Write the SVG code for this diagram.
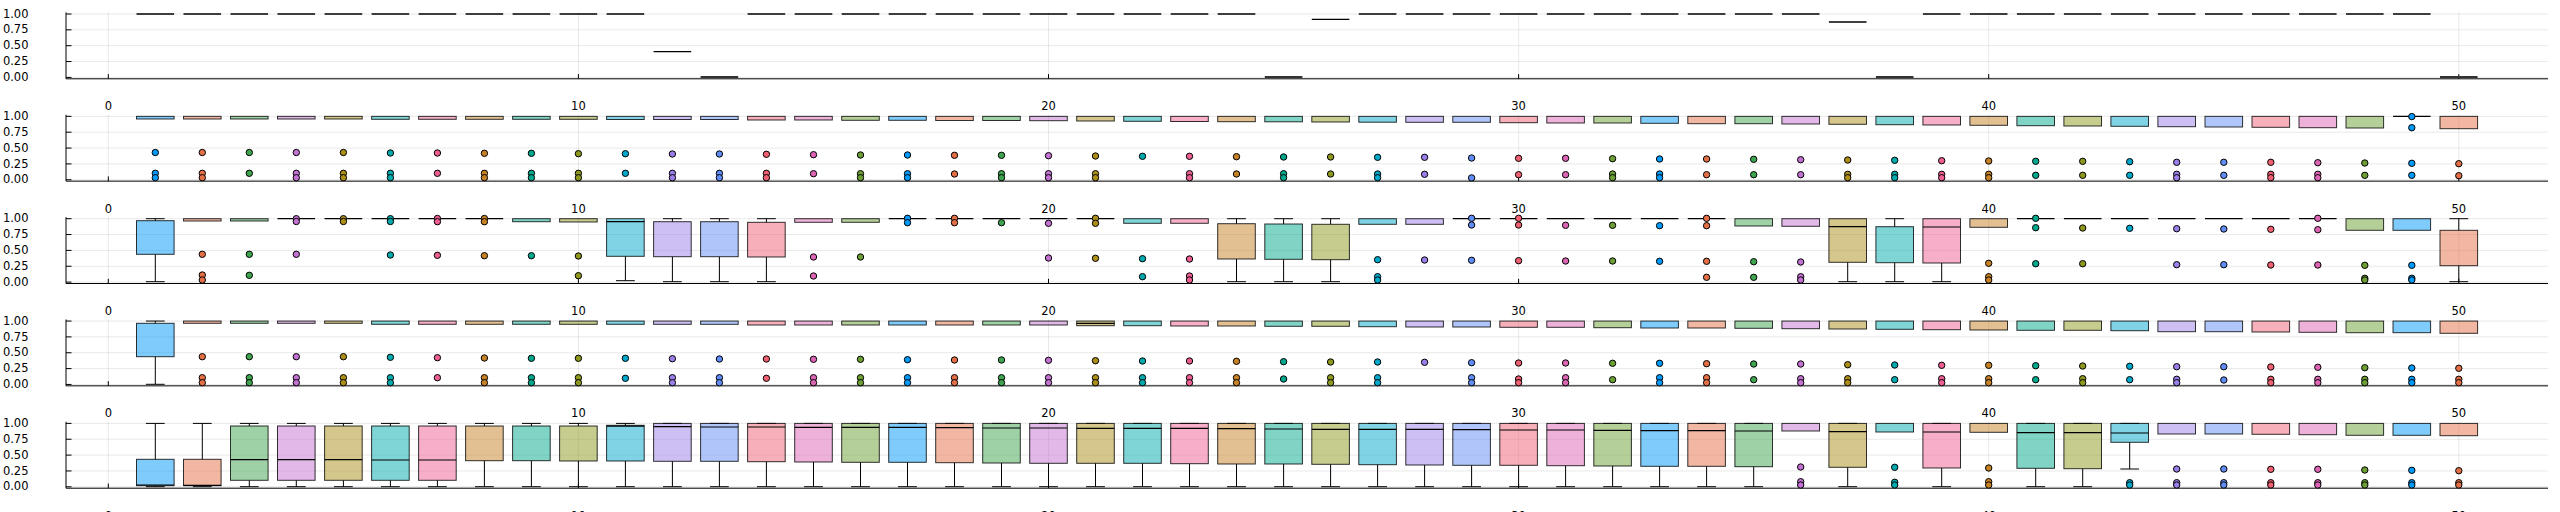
<svg xmlns="http://www.w3.org/2000/svg" xmlns:xlink="http://www.w3.org/1999/xlink" width="2560" height="512" viewBox="0 0 2560 512">
<style>
.gr{stroke:#000;stroke-opacity:.09;stroke-width:1;fill:none}
.ax{stroke:#000;stroke-width:1;fill:none}
.t{font-family:'DejaVu Sans',sans-serif;font-size:11.5px;fill:#000}
.ty{text-anchor:end}
.tx{text-anchor:middle}
.b{fill-opacity:.5;stroke:#000;stroke-opacity:.8;stroke-width:1}
.m{stroke:#000;stroke-width:1.2}
.w{stroke:#000;stroke-width:1;fill:none}
.z{stroke:#000;stroke-width:1.3}
.z0{stroke:#333;stroke-width:1.8}
.o{stroke:#000;stroke-width:1}
.c1{fill:#009AFA}.c2{fill:#E36F47}.c3{fill:#3EA44E}.c4{fill:#C371D2}
.c5{fill:#AC8E18}.c6{fill:#00AAAE}.c7{fill:#ED5E93}.c8{fill:#C68225}
.c9{fill:#00A98D}.c10{fill:#8E971E}.c11{fill:#00A8CB}.c12{fill:#9B7FE9}
.c13{fill:#618DF6}.c14{fill:#F06073}.c15{fill:#DD65B5}.c16{fill:#6C9F33}
</style>
<defs>
<g id="frame">
<path class="gr" d="M66 0H2548M66 -15.85H2548M66 -31.7H2548M66 -47.55H2548M66 -63.4H2548M108.3 -65V1.4M578.4 -65V1.4M1048.5 -65V1.4M1518.6 -65V1.4M1988.7 -65V1.4M2458.8 -65V1.4"/>
<path class="ax" d="M66 -65V1.4H2548M66 0H71.5M66 -15.85H71.5M66 -31.7H71.5M66 -47.55H71.5M66 -63.4H71.5M108.3 1.4V-3.3M578.4 1.4V-3.3M1048.5 1.4V-3.3M1518.6 1.4V-3.3M1988.7 1.4V-3.3M2458.8 1.4V-3.3"/>
</g>
<line id="zl" x1="-18.8" x2="18.8" y1="0" y2="0"/>
</defs>
<rect width="2560" height="512" fill="#fff"/>

<!-- ===================== SUBPLOT 1 ===================== -->
<g id="subplot1">
<use xlink:href="#frame" href="#frame" transform="translate(0,77.4)"/>
<g class="t" transform="translate(0,77.4)">
<text class="ty" x="28.5" y="3.6">0.00</text><text class="ty" x="28.5" y="-12.25">0.25</text><text class="ty" x="28.5" y="-28.1">0.50</text><text class="ty" x="28.5" y="-43.95">0.75</text><text class="ty" x="28.5" y="-59.8">1.00</text>
<text class="tx" x="108.3" y="33">0</text><text class="tx" x="578.4" y="33">10</text><text class="tx" x="1048.5" y="33">20</text><text class="tx" x="1518.6" y="33">30</text><text class="tx" x="1988.7" y="33">40</text><text class="tx" x="2458.8" y="33">50</text>
</g>
<g id="boxes1">
<g id="s1b1" transform="translate(155.3,14)"><use xlink:href="#zl" href="#zl" class="z"/></g>
<g id="s1b2" transform="translate(202.3,14)"><use xlink:href="#zl" href="#zl" class="z"/></g>
<g id="s1b3" transform="translate(249.3,14)"><use xlink:href="#zl" href="#zl" class="z"/></g>
<g id="s1b4" transform="translate(296.3,14)"><use xlink:href="#zl" href="#zl" class="z"/></g>
<g id="s1b5" transform="translate(343.4,14)"><use xlink:href="#zl" href="#zl" class="z"/></g>
<g id="s1b6" transform="translate(390.4,14)"><use xlink:href="#zl" href="#zl" class="z"/></g>
<g id="s1b7" transform="translate(437.4,14)"><use xlink:href="#zl" href="#zl" class="z"/></g>
<g id="s1b8" transform="translate(484.4,14)"><use xlink:href="#zl" href="#zl" class="z"/></g>
<g id="s1b9" transform="translate(531.4,14)"><use xlink:href="#zl" href="#zl" class="z"/></g>
<g id="s1b10" transform="translate(578.4,14)"><use xlink:href="#zl" href="#zl" class="z"/></g>
<g id="s1b11" transform="translate(625.4,14)"><use xlink:href="#zl" href="#zl" class="z"/></g>
<g id="s1b12" transform="translate(672.4,51.7)"><use xlink:href="#zl" href="#zl" class="z"/></g>
<g id="s1b13" transform="translate(719.4,77)"><use xlink:href="#zl" href="#zl" class="z0"/></g>
<g id="s1b14" transform="translate(766.4,14)"><use xlink:href="#zl" href="#zl" class="z"/></g>
<g id="s1b15" transform="translate(813.5,14)"><use xlink:href="#zl" href="#zl" class="z"/></g>
<g id="s1b16" transform="translate(860.5,14)"><use xlink:href="#zl" href="#zl" class="z"/></g>
<g id="s1b17" transform="translate(907.5,14)"><use xlink:href="#zl" href="#zl" class="z"/></g>
<g id="s1b18" transform="translate(954.5,14)"><use xlink:href="#zl" href="#zl" class="z"/></g>
<g id="s1b19" transform="translate(1001.5,14)"><use xlink:href="#zl" href="#zl" class="z"/></g>
<g id="s1b20" transform="translate(1048.5,14)"><use xlink:href="#zl" href="#zl" class="z"/></g>
<g id="s1b21" transform="translate(1095.5,14)"><use xlink:href="#zl" href="#zl" class="z"/></g>
<g id="s1b22" transform="translate(1142.5,14)"><use xlink:href="#zl" href="#zl" class="z"/></g>
<g id="s1b23" transform="translate(1189.5,14)"><use xlink:href="#zl" href="#zl" class="z"/></g>
<g id="s1b24" transform="translate(1236.5,14)"><use xlink:href="#zl" href="#zl" class="z"/></g>
<g id="s1b25" transform="translate(1283.6,77)"><use xlink:href="#zl" href="#zl" class="z0"/></g>
<g id="s1b26" transform="translate(1330.6,19.3)"><use xlink:href="#zl" href="#zl" class="z"/></g>
<g id="s1b27" transform="translate(1377.6,14)"><use xlink:href="#zl" href="#zl" class="z"/></g>
<g id="s1b28" transform="translate(1424.6,14)"><use xlink:href="#zl" href="#zl" class="z"/></g>
<g id="s1b29" transform="translate(1471.6,14)"><use xlink:href="#zl" href="#zl" class="z"/></g>
<g id="s1b30" transform="translate(1518.6,14)"><use xlink:href="#zl" href="#zl" class="z"/></g>
<g id="s1b31" transform="translate(1565.6,14)"><use xlink:href="#zl" href="#zl" class="z"/></g>
<g id="s1b32" transform="translate(1612.6,14)"><use xlink:href="#zl" href="#zl" class="z"/></g>
<g id="s1b33" transform="translate(1659.6,14)"><use xlink:href="#zl" href="#zl" class="z"/></g>
<g id="s1b34" transform="translate(1706.6,14)"><use xlink:href="#zl" href="#zl" class="z"/></g>
<g id="s1b35" transform="translate(1753.7,14)"><use xlink:href="#zl" href="#zl" class="z"/></g>
<g id="s1b36" transform="translate(1800.7,14)"><use xlink:href="#zl" href="#zl" class="z"/></g>
<g id="s1b37" transform="translate(1847.7,22)"><use xlink:href="#zl" href="#zl" class="z"/></g>
<g id="s1b38" transform="translate(1894.7,77)"><use xlink:href="#zl" href="#zl" class="z0"/></g>
<g id="s1b39" transform="translate(1941.7,14)"><use xlink:href="#zl" href="#zl" class="z"/></g>
<g id="s1b40" transform="translate(1988.7,14)"><use xlink:href="#zl" href="#zl" class="z"/></g>
<g id="s1b41" transform="translate(2035.7,14)"><use xlink:href="#zl" href="#zl" class="z"/></g>
<g id="s1b42" transform="translate(2082.7,14)"><use xlink:href="#zl" href="#zl" class="z"/></g>
<g id="s1b43" transform="translate(2129.7,14)"><use xlink:href="#zl" href="#zl" class="z"/></g>
<g id="s1b44" transform="translate(2176.7,14)"><use xlink:href="#zl" href="#zl" class="z"/></g>
<g id="s1b45" transform="translate(2223.8,14)"><use xlink:href="#zl" href="#zl" class="z"/></g>
<g id="s1b46" transform="translate(2270.8,14)"><use xlink:href="#zl" href="#zl" class="z"/></g>
<g id="s1b47" transform="translate(2317.8,14)"><use xlink:href="#zl" href="#zl" class="z"/></g>
<g id="s1b48" transform="translate(2364.8,14)"><use xlink:href="#zl" href="#zl" class="z"/></g>
<g id="s1b49" transform="translate(2411.8,14)"><use xlink:href="#zl" href="#zl" class="z"/></g>
<g id="s1b50" transform="translate(2458.8,77)"><use xlink:href="#zl" href="#zl" class="z0"/></g>
</g>
</g>

<!-- ===================== SUBPLOT 2 ===================== -->
<g id="subplot2">
<use xlink:href="#frame" href="#frame" transform="translate(0,179.75)"/>
<g class="t" transform="translate(0,179.75)">
<text class="ty" x="28.5" y="3.6">0.00</text><text class="ty" x="28.5" y="-12.25">0.25</text><text class="ty" x="28.5" y="-28.1">0.50</text><text class="ty" x="28.5" y="-43.95">0.75</text><text class="ty" x="28.5" y="-59.8">1.00</text>
<text class="tx" x="108.3" y="33">0</text><text class="tx" x="578.4" y="33">10</text><text class="tx" x="1048.5" y="33">20</text><text class="tx" x="1518.6" y="33">30</text><text class="tx" x="1988.7" y="33">40</text><text class="tx" x="2458.8" y="33">50</text>
</g>
<g id="boxes2">
<g id="s2b1" transform="translate(155.3,0)"><rect class="b c1" x="-18.8" y="116.35" width="37.6" height="2.65"/><circle class="o c1" cy="152.5" r="3.2"/><circle class="o c1" cy="173.3" r="3.2"/><circle class="o c1" cy="177.7" r="3.2"/></g>
<g id="s2b2" transform="translate(202.3,0)"><rect class="b c2" x="-18.8" y="116.35" width="37.6" height="2.65"/><circle class="o c2" cy="152.5" r="3.2"/><circle class="o c2" cy="173.3" r="3.2"/><circle class="o c2" cy="177.7" r="3.2"/></g>
<g id="s2b3" transform="translate(249.3,0)"><rect class="b c3" x="-18.8" y="116.35" width="37.6" height="2.65"/><circle class="o c3" cy="152.5" r="3.2"/><circle class="o c3" cy="173.3" r="3.2"/></g>
<g id="s2b4" transform="translate(296.3,0)"><rect class="b c4" x="-18.8" y="116.35" width="37.6" height="2.65"/><circle class="o c4" cy="152.5" r="3.2"/><circle class="o c4" cy="173.3" r="3.2"/><circle class="o c4" cy="177.7" r="3.2"/></g>
<g id="s2b5" transform="translate(343.4,0)"><rect class="b c5" x="-18.8" y="116.35" width="37.6" height="2.65"/><circle class="o c5" cy="152.5" r="3.2"/><circle class="o c5" cy="173.3" r="3.2"/><circle class="o c5" cy="177.7" r="3.2"/></g>
<g id="s2b6" transform="translate(390.4,0)"><rect class="b c6" x="-18.8" y="116.35" width="37.6" height="2.95"/><circle class="o c6" cy="153" r="3.2"/><circle class="o c6" cy="173.3" r="3.2"/><circle class="o c6" cy="177.7" r="3.2"/></g>
<g id="s2b7" transform="translate(437.4,0)"><rect class="b c7" x="-18.8" y="116.35" width="37.6" height="2.95"/><circle class="o c7" cy="153" r="3.2"/><circle class="o c7" cy="173.3" r="3.2"/></g>
<g id="s2b8" transform="translate(484.4,0)"><rect class="b c8" x="-18.8" y="116.35" width="37.6" height="2.95"/><circle class="o c8" cy="153.3" r="3.2"/><circle class="o c8" cy="173.3" r="3.2"/><circle class="o c8" cy="177.7" r="3.2"/></g>
<g id="s2b9" transform="translate(531.4,0)"><rect class="b c9" x="-18.8" y="116.35" width="37.6" height="2.95"/><circle class="o c9" cy="153.3" r="3.2"/><circle class="o c9" cy="173.3" r="3.2"/><circle class="o c9" cy="177.7" r="3.2"/></g>
<g id="s2b10" transform="translate(578.4,0)"><rect class="b c10" x="-18.8" y="116.35" width="37.6" height="2.95"/><circle class="o c10" cy="153.7" r="3.2"/><circle class="o c10" cy="173.3" r="3.2"/><circle class="o c10" cy="177.7" r="3.2"/></g>
<g id="s2b11" transform="translate(625.4,0)"><rect class="b c11" x="-18.8" y="116.35" width="37.6" height="3.15"/><circle class="o c11" cy="153.7" r="3.2"/><circle class="o c11" cy="173.3" r="3.2"/></g>
<g id="s2b12" transform="translate(672.4,0)"><rect class="b c12" x="-18.8" y="116.35" width="37.6" height="3.15"/><circle class="o c12" cy="154" r="3.2"/><circle class="o c12" cy="173.3" r="3.2"/><circle class="o c12" cy="177.7" r="3.2"/></g>
<g id="s2b13" transform="translate(719.4,0)"><rect class="b c13" x="-18.8" y="116.35" width="37.6" height="3.15"/><circle class="o c13" cy="154" r="3.2"/><circle class="o c13" cy="173.3" r="3.2"/><circle class="o c13" cy="177.7" r="3.2"/></g>
<g id="s2b14" transform="translate(766.4,0)"><rect class="b c14" x="-18.8" y="116.35" width="37.6" height="3.65"/><circle class="o c14" cy="154.3" r="3.2"/><circle class="o c14" cy="173.3" r="3.2"/><circle class="o c14" cy="177.7" r="3.2"/></g>
<g id="s2b15" transform="translate(813.5,0)"><rect class="b c15" x="-18.8" y="116.35" width="37.6" height="3.65"/><circle class="o c15" cy="154.7" r="3.2"/><circle class="o c15" cy="173.7" r="3.2"/></g>
<g id="s2b16" transform="translate(860.5,0)"><rect class="b c16" x="-18.8" y="116.35" width="37.6" height="3.95"/><circle class="o c16" cy="155" r="3.2"/><circle class="o c16" cy="173.7" r="3.2"/><circle class="o c16" cy="177.7" r="3.2"/></g>
<g id="s2b17" transform="translate(907.5,0)"><rect class="b c1" x="-18.8" y="116.35" width="37.6" height="3.95"/><circle class="o c1" cy="155" r="3.2"/><circle class="o c1" cy="173.7" r="3.2"/><circle class="o c1" cy="177.7" r="3.2"/></g>
<g id="s2b18" transform="translate(954.5,0)"><rect class="b c2" x="-18.8" y="116.35" width="37.6" height="4.15"/><circle class="o c2" cy="155.3" r="3.2"/><circle class="o c2" cy="174" r="3.2"/></g>
<g id="s2b19" transform="translate(1001.5,0)"><rect class="b c3" x="-18.8" y="116.35" width="37.6" height="4.15"/><circle class="o c3" cy="155.3" r="3.2"/><circle class="o c3" cy="173.7" r="3.2"/><circle class="o c3" cy="177.7" r="3.2"/></g>
<g id="s2b20" transform="translate(1048.5,0)"><rect class="b c4" x="-18.8" y="116.35" width="37.6" height="4.35"/><circle class="o c4" cy="155.7" r="3.2"/><circle class="o c4" cy="173.7" r="3.2"/><circle class="o c4" cy="177.7" r="3.2"/></g>
<g id="s2b21" transform="translate(1095.5,0)"><rect class="b c5" x="-18.8" y="116.35" width="37.6" height="4.65"/><circle class="o c5" cy="156" r="3.2"/><circle class="o c5" cy="173.7" r="3.2"/><circle class="o c5" cy="177.7" r="3.2"/></g>
<g id="s2b22" transform="translate(1142.5,0)"><rect class="b c6" x="-18.8" y="116.35" width="37.6" height="4.95"/><circle class="o c6" cy="156.3" r="3.2"/></g>
<g id="s2b23" transform="translate(1189.5,0)"><rect class="b c7" x="-18.8" y="116.35" width="37.6" height="5.15"/><circle class="o c7" cy="156.3" r="3.2"/><circle class="o c7" cy="173.7" r="3.2"/><circle class="o c7" cy="177.7" r="3.2"/></g>
<g id="s2b24" transform="translate(1236.5,0)"><rect class="b c8" x="-18.8" y="116.35" width="37.6" height="5.35"/><circle class="o c8" cy="156.7" r="3.2"/><circle class="o c8" cy="174" r="3.2"/></g>
<g id="s2b25" transform="translate(1283.6,0)"><rect class="b c9" x="-18.8" y="116.35" width="37.6" height="5.45"/><circle class="o c9" cy="157" r="3.2"/><circle class="o c9" cy="173.7" r="3.2"/><circle class="o c9" cy="177.7" r="3.2"/></g>
<g id="s2b26" transform="translate(1330.6,0)"><rect class="b c10" x="-18.8" y="116.35" width="37.6" height="5.65"/><circle class="o c10" cy="157" r="3.2"/><circle class="o c10" cy="174" r="3.2"/></g>
<g id="s2b27" transform="translate(1377.6,0)"><rect class="b c11" x="-18.8" y="116.35" width="37.6" height="5.85"/><circle class="o c11" cy="157.3" r="3.2"/><circle class="o c11" cy="174" r="3.2"/><circle class="o c11" cy="177.7" r="3.2"/></g>
<g id="s2b28" transform="translate(1424.6,0)"><rect class="b c12" x="-18.8" y="116.35" width="37.6" height="5.95"/><circle class="o c12" cy="157.3" r="3.2"/><circle class="o c12" cy="174.3" r="3.2"/></g>
<g id="s2b29" transform="translate(1471.6,0)"><rect class="b c13" x="-18.8" y="116.35" width="37.6" height="5.95"/><circle class="o c13" cy="158" r="3.2"/><circle class="o c13" cy="177.9" r="3.2"/></g>
<g id="s2b30" transform="translate(1518.6,0)"><rect class="b c14" x="-18.8" y="116.35" width="37.6" height="6.35"/><circle class="o c14" cy="158.3" r="3.2"/><circle class="o c14" cy="174.7" r="3.2"/></g>
<g id="s2b31" transform="translate(1565.6,0)"><rect class="b c15" x="-18.8" y="116.35" width="37.6" height="6.65"/><circle class="o c15" cy="158.3" r="3.2"/><circle class="o c15" cy="174.7" r="3.2"/></g>
<g id="s2b32" transform="translate(1612.6,0)"><rect class="b c16" x="-18.8" y="116.35" width="37.6" height="6.65"/><circle class="o c16" cy="158.7" r="3.2"/><circle class="o c16" cy="174" r="3.2"/><circle class="o c16" cy="177.7" r="3.2"/></g>
<g id="s2b33" transform="translate(1659.6,0)"><rect class="b c1" x="-18.8" y="116.35" width="37.6" height="6.95"/><circle class="o c1" cy="159" r="3.2"/><circle class="o c1" cy="174" r="3.2"/><circle class="o c1" cy="177.7" r="3.2"/></g>
<g id="s2b34" transform="translate(1706.6,0)"><rect class="b c2" x="-18.8" y="116.35" width="37.6" height="7.35"/><circle class="o c2" cy="159" r="3.2"/><circle class="o c2" cy="174.7" r="3.2"/></g>
<g id="s2b35" transform="translate(1753.7,0)"><rect class="b c3" x="-18.8" y="116.35" width="37.6" height="7.35"/><circle class="o c3" cy="159.3" r="3.2"/><circle class="o c3" cy="174.7" r="3.2"/></g>
<g id="s2b36" transform="translate(1800.7,0)"><rect class="b c4" x="-18.8" y="116.35" width="37.6" height="7.65"/><circle class="o c4" cy="159.7" r="3.2"/><circle class="o c4" cy="174.7" r="3.2"/></g>
<g id="s2b37" transform="translate(1847.7,0)"><rect class="b c5" x="-18.8" y="116.35" width="37.6" height="7.95"/><circle class="o c5" cy="160" r="3.2"/><circle class="o c5" cy="174.3" r="3.2"/><circle class="o c5" cy="177.7" r="3.2"/></g>
<g id="s2b38" transform="translate(1894.7,0)"><rect class="b c6" x="-18.8" y="116.35" width="37.6" height="8.35"/><circle class="o c6" cy="160.3" r="3.2"/><circle class="o c6" cy="174.3" r="3.2"/><circle class="o c6" cy="177.7" r="3.2"/></g>
<g id="s2b39" transform="translate(1941.7,0)"><rect class="b c7" x="-18.8" y="116.35" width="37.6" height="8.65"/><circle class="o c7" cy="160.7" r="3.2"/><circle class="o c7" cy="174.3" r="3.2"/><circle class="o c7" cy="177.7" r="3.2"/></g>
<g id="s2b40" transform="translate(1988.7,0)"><rect class="b c8" x="-18.8" y="116.35" width="37.6" height="8.95"/><circle class="o c8" cy="161" r="3.2"/><circle class="o c8" cy="174.3" r="3.2"/><circle class="o c8" cy="177.7" r="3.2"/></g>
<g id="s2b41" transform="translate(2035.7,0)"><rect class="b c9" x="-18.8" y="116.35" width="37.6" height="9.35"/><circle class="o c9" cy="161.3" r="3.2"/><circle class="o c9" cy="175.3" r="3.2"/></g>
<g id="s2b42" transform="translate(2082.7,0)"><rect class="b c10" x="-18.8" y="116.35" width="37.6" height="9.65"/><circle class="o c10" cy="161.3" r="3.2"/><circle class="o c10" cy="175.3" r="3.2"/></g>
<g id="s2b43" transform="translate(2129.7,0)"><rect class="b c11" x="-18.8" y="116.35" width="37.6" height="9.95"/><circle class="o c11" cy="161.7" r="3.2"/><circle class="o c11" cy="175.3" r="3.2"/></g>
<g id="s2b44" transform="translate(2176.7,0)"><rect class="b c12" x="-18.8" y="116.35" width="37.6" height="10.35"/><circle class="o c12" cy="162.3" r="3.2"/><circle class="o c12" cy="174.3" r="3.2"/><circle class="o c12" cy="177.7" r="3.2"/></g>
<g id="s2b45" transform="translate(2223.8,0)"><rect class="b c13" x="-18.8" y="116.35" width="37.6" height="10.65"/><circle class="o c13" cy="162.3" r="3.2"/><circle class="o c13" cy="175.3" r="3.2"/></g>
<g id="s2b46" transform="translate(2270.8,0)"><rect class="b c14" x="-18.8" y="116.35" width="37.6" height="10.95"/><circle class="o c14" cy="162.3" r="3.2"/><circle class="o c14" cy="174.3" r="3.2"/><circle class="o c14" cy="177.7" r="3.2"/></g>
<g id="s2b47" transform="translate(2317.8,0)"><rect class="b c15" x="-18.8" y="116.35" width="37.6" height="11.35"/><circle class="o c15" cy="162.7" r="3.2"/><circle class="o c15" cy="174.3" r="3.2"/><circle class="o c15" cy="177.7" r="3.2"/></g>
<g id="s2b48" transform="translate(2364.8,0)"><rect class="b c16" x="-18.8" y="116.35" width="37.6" height="11.65"/><circle class="o c16" cy="163" r="3.2"/><circle class="o c16" cy="175.3" r="3.2"/></g>
<g id="s2b49" transform="translate(2411.8,0)"><line class="z" x1="-18.8" x2="18.8" y1="116.35" y2="116.35"/><circle class="o c1" cy="116.6" r="3.2"/><circle class="o c1" cy="127.7" r="3.2"/><circle class="o c1" cy="163.3" r="3.2"/><circle class="o c1" cy="175.3" r="3.2"/></g>
<g id="s2b50" transform="translate(2458.8,0)"><rect class="b c2" x="-18.8" y="116.35" width="37.6" height="12.35"/><circle class="o c2" cy="163.7" r="3.2"/><circle class="o c2" cy="175.7" r="3.2"/></g>
</g>
</g>

<!-- ===================== SUBPLOT 3 ===================== -->
<g id="subplot3">
<use xlink:href="#frame" href="#frame" transform="translate(0,282.1)"/>
<g class="t" transform="translate(0,282.1)">
<text class="ty" x="28.5" y="3.6">0.00</text><text class="ty" x="28.5" y="-12.25">0.25</text><text class="ty" x="28.5" y="-28.1">0.50</text><text class="ty" x="28.5" y="-43.95">0.75</text><text class="ty" x="28.5" y="-59.8">1.00</text>
<text class="tx" x="108.3" y="33">0</text><text class="tx" x="578.4" y="33">10</text><text class="tx" x="1048.5" y="33">20</text><text class="tx" x="1518.6" y="33">30</text><text class="tx" x="1988.7" y="33">40</text><text class="tx" x="2458.8" y="33">50</text>
</g>
<g id="boxes3">
<g id="s3b1" transform="translate(155.3,0)"><path class="w" d="M-9.4 218.7H9.4M0 218.7V220.7M0 254.3V281.7M-9.4 281.7H9.4"/><rect class="b c1" x="-18.8" y="220.7" width="37.6" height="33.6"/></g>
<g id="s3b2" transform="translate(202.3,0)"><rect class="b c2" x="-18.8" y="218.7" width="37.6" height="2.3"/><circle class="o c2" cy="254.3" r="3.2"/><circle class="o c2" cy="275" r="3.2"/><circle class="o c2" cy="280" r="3.2"/></g>
<g id="s3b3" transform="translate(249.3,0)"><rect class="b c3" x="-18.8" y="218.7" width="37.6" height="2.3"/><circle class="o c3" cy="254.3" r="3.2"/><circle class="o c3" cy="275.3" r="3.2"/></g>
<g id="s3b4" transform="translate(296.3,0)"><line class="z" x1="-18.8" x2="18.8" y1="218.7" y2="218.7"/><circle class="o c4" cy="218.7" r="3.2"/><circle class="o c4" cy="221.5" r="3.2"/><circle class="o c4" cy="254.3" r="3.2"/></g>
<g id="s3b5" transform="translate(343.4,0)"><line class="z" x1="-18.8" x2="18.8" y1="218.7" y2="218.7"/><circle class="o c5" cy="218.7" r="3.2"/><circle class="o c5" cy="221.5" r="3.2"/></g>
<g id="s3b6" transform="translate(390.4,0)"><line class="z" x1="-18.8" x2="18.8" y1="218.7" y2="218.7"/><circle class="o c6" cy="218.7" r="3.2"/><circle class="o c6" cy="221.5" r="3.2"/><circle class="o c6" cy="255" r="3.2"/></g>
<g id="s3b7" transform="translate(437.4,0)"><line class="z" x1="-18.8" x2="18.8" y1="218.7" y2="218.7"/><circle class="o c7" cy="218.5" r="3.2"/><circle class="o c7" cy="221.7" r="3.2"/><circle class="o c7" cy="255.3" r="3.2"/></g>
<g id="s3b8" transform="translate(484.4,0)"><line class="z" x1="-18.8" x2="18.8" y1="218.7" y2="218.7"/><circle class="o c8" cy="218.5" r="3.2"/><circle class="o c8" cy="221.7" r="3.2"/><circle class="o c8" cy="255.7" r="3.2"/></g>
<g id="s3b9" transform="translate(531.4,0)"><rect class="b c9" x="-18.8" y="218.7" width="37.6" height="3"/><circle class="o c9" cy="255.7" r="3.2"/></g>
<g id="s3b10" transform="translate(578.4,0)"><rect class="b c10" x="-18.8" y="218.7" width="37.6" height="3.3"/><circle class="o c10" cy="256" r="3.2"/><circle class="o c10" cy="275.7" r="3.2"/></g>
<g id="s3b11" transform="translate(625.4,0)"><path class="w" d="M0 256.3V280.7M-9.4 280.7H9.4"/><rect class="b c11" x="-18.8" y="218.7" width="37.6" height="37.6"/><line class="m" x1="-18.8" x2="18.8" y1="221.7" y2="221.7"/></g>
<g id="s3b12" transform="translate(672.4,0)"><path class="w" d="M-9.4 218.7H9.4M0 218.7V221.7M0 256.7V281.7M-9.4 281.7H9.4"/><rect class="b c12" x="-18.8" y="221.7" width="37.6" height="35"/></g>
<g id="s3b13" transform="translate(719.4,0)"><path class="w" d="M-9.4 218.7H9.4M0 218.7V221.7M0 256.7V281.7M-9.4 281.7H9.4"/><rect class="b c13" x="-18.8" y="221.7" width="37.6" height="35"/></g>
<g id="s3b14" transform="translate(766.4,0)"><path class="w" d="M-9.4 218.7H9.4M0 218.7V222.3M0 257V281.7M-9.4 281.7H9.4"/><rect class="b c14" x="-18.8" y="222.3" width="37.6" height="34.7"/></g>
<g id="s3b15" transform="translate(813.5,0)"><rect class="b c15" x="-18.8" y="218.7" width="37.6" height="3.6"/><circle class="o c15" cy="257" r="3.2"/><circle class="o c15" cy="276" r="3.2"/></g>
<g id="s3b16" transform="translate(860.5,0)"><rect class="b c16" x="-18.8" y="218.7" width="37.6" height="3.6"/><circle class="o c16" cy="257" r="3.2"/></g>
<g id="s3b17" transform="translate(907.5,0)"><line class="z" x1="-18.8" x2="18.8" y1="218.7" y2="218.7"/><circle class="o c1" cy="218.3" r="3.2"/><circle class="o c1" cy="222.7" r="3.2"/></g>
<g id="s3b18" transform="translate(954.5,0)"><line class="z" x1="-18.8" x2="18.8" y1="218.7" y2="218.7"/><circle class="o c2" cy="218.3" r="3.2"/><circle class="o c2" cy="222.7" r="3.2"/></g>
<g id="s3b19" transform="translate(1001.5,0)"><line class="z" x1="-18.8" x2="18.8" y1="218.7" y2="218.7"/><circle class="o c3" cy="222.7" r="3.2"/></g>
<g id="s3b20" transform="translate(1048.5,0)"><line class="z" x1="-18.8" x2="18.8" y1="218.7" y2="218.7"/><circle class="o c4" cy="223.3" r="3.2"/><circle class="o c4" cy="258" r="3.2"/></g>
<g id="s3b21" transform="translate(1095.5,0)"><line class="z" x1="-18.8" x2="18.8" y1="218.7" y2="218.7"/><circle class="o c5" cy="218.3" r="3.2"/><circle class="o c5" cy="223.3" r="3.2"/><circle class="o c5" cy="258.3" r="3.2"/></g>
<g id="s3b22" transform="translate(1142.5,0)"><rect class="b c6" x="-18.8" y="218.7" width="37.6" height="4.6"/><circle class="o c6" cy="258.7" r="3.2"/><circle class="o c6" cy="276.7" r="3.2"/></g>
<g id="s3b23" transform="translate(1189.5,0)"><rect class="b c7" x="-18.8" y="218.7" width="37.6" height="4.6"/><circle class="o c7" cy="259" r="3.2"/><circle class="o c7" cy="276" r="3.2"/><circle class="o c7" cy="280" r="3.2"/></g>
<g id="s3b24" transform="translate(1236.5,0)"><path class="w" d="M-9.4 218.7H9.4M0 218.7V223.7M0 259V281.7M-9.4 281.7H9.4"/><rect class="b c8" x="-18.8" y="223.7" width="37.6" height="35.3"/></g>
<g id="s3b25" transform="translate(1283.6,0)"><path class="w" d="M-9.4 218.7H9.4M0 218.7V224M0 259.3V281.7M-9.4 281.7H9.4"/><rect class="b c9" x="-18.8" y="224" width="37.6" height="35.3"/></g>
<g id="s3b26" transform="translate(1330.6,0)"><path class="w" d="M-9.4 218.7H9.4M0 218.7V224.3M0 259.7V281.7M-9.4 281.7H9.4"/><rect class="b c10" x="-18.8" y="224.3" width="37.6" height="35.4"/></g>
<g id="s3b27" transform="translate(1377.6,0)"><rect class="b c11" x="-18.8" y="218.7" width="37.6" height="5.6"/><circle class="o c11" cy="259.7" r="3.2"/><circle class="o c11" cy="276.7" r="3.2"/><circle class="o c11" cy="280" r="3.2"/></g>
<g id="s3b28" transform="translate(1424.6,0)"><rect class="b c12" x="-18.8" y="218.7" width="37.6" height="5.6"/><circle class="o c12" cy="260" r="3.2"/></g>
<g id="s3b29" transform="translate(1471.6,0)"><line class="z" x1="-18.8" x2="18.8" y1="218.7" y2="218.7"/><circle class="o c13" cy="218.3" r="3.2"/><circle class="o c13" cy="225" r="3.2"/><circle class="o c13" cy="260.3" r="3.2"/></g>
<g id="s3b30" transform="translate(1518.6,0)"><line class="z" x1="-18.8" x2="18.8" y1="218.7" y2="218.7"/><circle class="o c14" cy="218.3" r="3.2"/><circle class="o c14" cy="225" r="3.2"/><circle class="o c14" cy="260.7" r="3.2"/></g>
<g id="s3b31" transform="translate(1565.6,0)"><line class="z" x1="-18.8" x2="18.8" y1="218.7" y2="218.7"/><circle class="o c15" cy="225.3" r="3.2"/><circle class="o c15" cy="261" r="3.2"/></g>
<g id="s3b32" transform="translate(1612.6,0)"><line class="z" x1="-18.8" x2="18.8" y1="218.7" y2="218.7"/><circle class="o c16" cy="225.3" r="3.2"/><circle class="o c16" cy="261" r="3.2"/></g>
<g id="s3b33" transform="translate(1659.6,0)"><line class="z" x1="-18.8" x2="18.8" y1="218.7" y2="218.7"/><circle class="o c1" cy="225.7" r="3.2"/><circle class="o c1" cy="261.3" r="3.2"/></g>
<g id="s3b34" transform="translate(1706.6,0)"><line class="z" x1="-18.8" x2="18.8" y1="218.7" y2="218.7"/><circle class="o c2" cy="218.3" r="3.2"/><circle class="o c2" cy="225.7" r="3.2"/><circle class="o c2" cy="261.3" r="3.2"/><circle class="o c2" cy="277.3" r="3.2"/></g>
<g id="s3b35" transform="translate(1753.7,0)"><rect class="b c3" x="-18.8" y="218.7" width="37.6" height="7.3"/><circle class="o c3" cy="261.7" r="3.2"/><circle class="o c3" cy="277.3" r="3.2"/></g>
<g id="s3b36" transform="translate(1800.7,0)"><rect class="b c4" x="-18.8" y="218.7" width="37.6" height="7.6"/><circle class="o c4" cy="262" r="3.2"/><circle class="o c4" cy="276.7" r="3.2"/><circle class="o c4" cy="280" r="3.2"/></g>
<g id="s3b37" transform="translate(1847.7,0)"><path class="w" d="M0 262.3V281.7M-9.4 281.7H9.4"/><rect class="b c5" x="-18.8" y="218.7" width="37.6" height="43.6"/><line class="m" x1="-18.8" x2="18.8" y1="226.7" y2="226.7"/></g>
<g id="s3b38" transform="translate(1894.7,0)"><path class="w" d="M-9.4 218.7H9.4M0 218.7V226.7M0 262.7V281.7M-9.4 281.7H9.4"/><rect class="b c6" x="-18.8" y="226.7" width="37.6" height="36"/></g>
<g id="s3b39" transform="translate(1941.7,0)"><path class="w" d="M0 263V281.7M-9.4 281.7H9.4"/><rect class="b c7" x="-18.8" y="218.7" width="37.6" height="44.3"/><line class="m" x1="-18.8" x2="18.8" y1="227" y2="227"/></g>
<g id="s3b40" transform="translate(1988.7,0)"><rect class="b c8" x="-18.8" y="218.7" width="37.6" height="8.6"/><circle class="o c8" cy="263.3" r="3.2"/><circle class="o c8" cy="276.7" r="3.2"/><circle class="o c8" cy="280" r="3.2"/></g>
<g id="s3b41" transform="translate(2035.7,0)"><line class="z" x1="-18.8" x2="18.8" y1="218.7" y2="218.7"/><circle class="o c9" cy="218.3" r="3.2"/><circle class="o c9" cy="227.7" r="3.2"/><circle class="o c9" cy="263.7" r="3.2"/></g>
<g id="s3b42" transform="translate(2082.7,0)"><line class="z" x1="-18.8" x2="18.8" y1="218.7" y2="218.7"/><circle class="o c10" cy="228" r="3.2"/><circle class="o c10" cy="263.7" r="3.2"/></g>
<g id="s3b43" transform="translate(2129.7,0)"><line class="z" x1="-18.8" x2="18.8" y1="218.7" y2="218.7"/><circle class="o c11" cy="228.3" r="3.2"/></g>
<g id="s3b44" transform="translate(2176.7,0)"><line class="z" x1="-18.8" x2="18.8" y1="218.7" y2="218.7"/><circle class="o c12" cy="228.7" r="3.2"/><circle class="o c12" cy="264.7" r="3.2"/></g>
<g id="s3b45" transform="translate(2223.8,0)"><line class="z" x1="-18.8" x2="18.8" y1="218.7" y2="218.7"/><circle class="o c13" cy="229" r="3.2"/><circle class="o c13" cy="264.7" r="3.2"/></g>
<g id="s3b46" transform="translate(2270.8,0)"><line class="z" x1="-18.8" x2="18.8" y1="218.7" y2="218.7"/><circle class="o c14" cy="229.3" r="3.2"/><circle class="o c14" cy="265" r="3.2"/></g>
<g id="s3b47" transform="translate(2317.8,0)"><line class="z" x1="-18.8" x2="18.8" y1="218.7" y2="218.7"/><circle class="o c15" cy="218.3" r="3.2"/><circle class="o c15" cy="229.7" r="3.2"/><circle class="o c15" cy="265" r="3.2"/></g>
<g id="s3b48" transform="translate(2364.8,0)"><rect class="b c16" x="-18.8" y="218.7" width="37.6" height="11.6"/><circle class="o c16" cy="265.3" r="3.2"/><circle class="o c16" cy="278.3" r="3.2"/><circle class="o c16" cy="280" r="3.2"/></g>
<g id="s3b49" transform="translate(2411.8,0)"><rect class="b c1" x="-18.8" y="218.7" width="37.6" height="11.6"/><circle class="o c1" cy="265.3" r="3.2"/><circle class="o c1" cy="278.3" r="3.2"/><circle class="o c1" cy="280" r="3.2"/></g>
<g id="s3b50" transform="translate(2458.8,0)"><path class="w" d="M-9.4 218.7H9.4M0 218.7V230.3M0 265.7V281.7M-9.4 281.7H9.4"/><rect class="b c2" x="-18.8" y="230.3" width="37.6" height="35.4"/></g>
</g>
</g>

<!-- ===================== SUBPLOT 4 ===================== -->
<g id="subplot4">
<use xlink:href="#frame" href="#frame" transform="translate(0,384.45)"/>
<g class="t" transform="translate(0,384.45)">
<text class="ty" x="28.5" y="3.6">0.00</text><text class="ty" x="28.5" y="-12.25">0.25</text><text class="ty" x="28.5" y="-28.1">0.50</text><text class="ty" x="28.5" y="-43.95">0.75</text><text class="ty" x="28.5" y="-59.8">1.00</text>
<text class="tx" x="108.3" y="33">0</text><text class="tx" x="578.4" y="33">10</text><text class="tx" x="1048.5" y="33">20</text><text class="tx" x="1518.6" y="33">30</text><text class="tx" x="1988.7" y="33">40</text><text class="tx" x="2458.8" y="33">50</text>
</g>
<g id="boxes4">
<g id="s4b1" transform="translate(155.3,0)"><path class="w" d="M-9.4 321.05H9.4M0 321.05V323.3M0 356.7V384.3M-9.4 384.3H9.4"/><rect class="b c1" x="-18.8" y="323.3" width="37.6" height="33.4"/></g>
<g id="s4b2" transform="translate(202.3,0)"><rect class="b c2" x="-18.8" y="321.05" width="37.6" height="2.25"/><circle class="o c2" cy="356.7" r="3.2"/><circle class="o c2" cy="377.7" r="3.2"/><circle class="o c2" cy="382.7" r="3.2"/></g>
<g id="s4b3" transform="translate(249.3,0)"><rect class="b c3" x="-18.8" y="321.05" width="37.6" height="2.25"/><circle class="o c3" cy="356.7" r="3.2"/><circle class="o c3" cy="377.7" r="3.2"/><circle class="o c3" cy="382.7" r="3.2"/></g>
<g id="s4b4" transform="translate(296.3,0)"><rect class="b c4" x="-18.8" y="321.05" width="37.6" height="2.25"/><circle class="o c4" cy="356.7" r="3.2"/><circle class="o c4" cy="377.7" r="3.2"/><circle class="o c4" cy="382.7" r="3.2"/></g>
<g id="s4b5" transform="translate(343.4,0)"><rect class="b c5" x="-18.8" y="321.05" width="37.6" height="2.25"/><circle class="o c5" cy="356.7" r="3.2"/><circle class="o c5" cy="377.7" r="3.2"/><circle class="o c5" cy="382.7" r="3.2"/></g>
<g id="s4b6" transform="translate(390.4,0)"><rect class="b c6" x="-18.8" y="321.05" width="37.6" height="3.25"/><circle class="o c6" cy="357.3" r="3.2"/><circle class="o c6" cy="377.7" r="3.2"/><circle class="o c6" cy="382.7" r="3.2"/></g>
<g id="s4b7" transform="translate(437.4,0)"><rect class="b c7" x="-18.8" y="321.05" width="37.6" height="3.25"/><circle class="o c7" cy="357.7" r="3.2"/><circle class="o c7" cy="377.7" r="3.2"/></g>
<g id="s4b8" transform="translate(484.4,0)"><rect class="b c8" x="-18.8" y="321.05" width="37.6" height="3.25"/><circle class="o c8" cy="358" r="3.2"/><circle class="o c8" cy="377.7" r="3.2"/><circle class="o c8" cy="382.7" r="3.2"/></g>
<g id="s4b9" transform="translate(531.4,0)"><rect class="b c9" x="-18.8" y="321.05" width="37.6" height="3.25"/><circle class="o c9" cy="358.3" r="3.2"/><circle class="o c9" cy="377.7" r="3.2"/><circle class="o c9" cy="382.7" r="3.2"/></g>
<g id="s4b10" transform="translate(578.4,0)"><rect class="b c10" x="-18.8" y="321.05" width="37.6" height="3.25"/><circle class="o c10" cy="358.3" r="3.2"/><circle class="o c10" cy="377.7" r="3.2"/><circle class="o c10" cy="382.7" r="3.2"/></g>
<g id="s4b11" transform="translate(625.4,0)"><rect class="b c11" x="-18.8" y="321.05" width="37.6" height="3.25"/><circle class="o c11" cy="358.3" r="3.2"/><circle class="o c11" cy="378.3" r="3.2"/></g>
<g id="s4b12" transform="translate(672.4,0)"><rect class="b c12" x="-18.8" y="321.05" width="37.6" height="3.25"/><circle class="o c12" cy="358.7" r="3.2"/><circle class="o c12" cy="377.7" r="3.2"/><circle class="o c12" cy="382.7" r="3.2"/></g>
<g id="s4b13" transform="translate(719.4,0)"><rect class="b c13" x="-18.8" y="321.05" width="37.6" height="3.25"/><circle class="o c13" cy="359" r="3.2"/><circle class="o c13" cy="377.7" r="3.2"/><circle class="o c13" cy="382.7" r="3.2"/></g>
<g id="s4b14" transform="translate(766.4,0)"><rect class="b c14" x="-18.8" y="321.05" width="37.6" height="3.95"/><circle class="o c14" cy="359" r="3.2"/><circle class="o c14" cy="378.3" r="3.2"/></g>
<g id="s4b15" transform="translate(813.5,0)"><rect class="b c15" x="-18.8" y="321.05" width="37.6" height="3.95"/><circle class="o c15" cy="359.3" r="3.2"/><circle class="o c15" cy="377.7" r="3.2"/><circle class="o c15" cy="382.7" r="3.2"/></g>
<g id="s4b16" transform="translate(860.5,0)"><rect class="b c16" x="-18.8" y="321.05" width="37.6" height="3.95"/><circle class="o c16" cy="359.3" r="3.2"/><circle class="o c16" cy="377.7" r="3.2"/><circle class="o c16" cy="382.7" r="3.2"/></g>
<g id="s4b17" transform="translate(907.5,0)"><rect class="b c1" x="-18.8" y="321.05" width="37.6" height="3.95"/><circle class="o c1" cy="359.7" r="3.2"/><circle class="o c1" cy="377.7" r="3.2"/><circle class="o c1" cy="382.7" r="3.2"/></g>
<g id="s4b18" transform="translate(954.5,0)"><rect class="b c2" x="-18.8" y="321.05" width="37.6" height="3.95"/><circle class="o c2" cy="360" r="3.2"/><circle class="o c2" cy="377.7" r="3.2"/><circle class="o c2" cy="382.7" r="3.2"/></g>
<g id="s4b19" transform="translate(1001.5,0)"><rect class="b c3" x="-18.8" y="321.05" width="37.6" height="3.95"/><circle class="o c3" cy="360" r="3.2"/><circle class="o c3" cy="377.7" r="3.2"/><circle class="o c3" cy="382.7" r="3.2"/></g>
<g id="s4b20" transform="translate(1048.5,0)"><rect class="b c4" x="-18.8" y="321.05" width="37.6" height="3.95"/><circle class="o c4" cy="360.3" r="3.2"/><circle class="o c4" cy="377.7" r="3.2"/><circle class="o c4" cy="382.7" r="3.2"/></g>
<g id="s4b21" transform="translate(1095.5,0)"><rect class="b c5" x="-18.8" y="321.05" width="37.6" height="4.65"/><line class="m" x1="-18.8" x2="18.8" y1="323.3" y2="323.3"/><circle class="o c5" cy="360.7" r="3.2"/><circle class="o c5" cy="377.7" r="3.2"/><circle class="o c5" cy="382.7" r="3.2"/></g>
<g id="s4b22" transform="translate(1142.5,0)"><rect class="b c6" x="-18.8" y="321.05" width="37.6" height="4.65"/><circle class="o c6" cy="361" r="3.2"/><circle class="o c6" cy="377.7" r="3.2"/><circle class="o c6" cy="382.7" r="3.2"/></g>
<g id="s4b23" transform="translate(1189.5,0)"><rect class="b c7" x="-18.8" y="321.05" width="37.6" height="4.95"/><circle class="o c7" cy="361" r="3.2"/><circle class="o c7" cy="377.7" r="3.2"/><circle class="o c7" cy="382.7" r="3.2"/></g>
<g id="s4b24" transform="translate(1236.5,0)"><rect class="b c8" x="-18.8" y="321.05" width="37.6" height="4.95"/><circle class="o c8" cy="361.3" r="3.2"/><circle class="o c8" cy="377.7" r="3.2"/><circle class="o c8" cy="382.7" r="3.2"/></g>
<g id="s4b25" transform="translate(1283.6,0)"><rect class="b c9" x="-18.8" y="321.05" width="37.6" height="5.25"/><circle class="o c9" cy="361.7" r="3.2"/><circle class="o c9" cy="379" r="3.2"/></g>
<g id="s4b26" transform="translate(1330.6,0)"><rect class="b c10" x="-18.8" y="321.05" width="37.6" height="5.25"/><circle class="o c10" cy="362" r="3.2"/><circle class="o c10" cy="377.7" r="3.2"/><circle class="o c10" cy="382.7" r="3.2"/></g>
<g id="s4b27" transform="translate(1377.6,0)"><rect class="b c11" x="-18.8" y="321.05" width="37.6" height="5.65"/><circle class="o c11" cy="362" r="3.2"/><circle class="o c11" cy="377.7" r="3.2"/><circle class="o c11" cy="382.7" r="3.2"/></g>
<g id="s4b28" transform="translate(1424.6,0)"><rect class="b c12" x="-18.8" y="321.05" width="37.6" height="5.95"/><circle class="o c12" cy="362.3" r="3.2"/></g>
<g id="s4b29" transform="translate(1471.6,0)"><rect class="b c13" x="-18.8" y="321.05" width="37.6" height="5.95"/><circle class="o c13" cy="362.7" r="3.2"/><circle class="o c13" cy="377.7" r="3.2"/><circle class="o c13" cy="382.7" r="3.2"/></g>
<g id="s4b30" transform="translate(1518.6,0)"><rect class="b c14" x="-18.8" y="321.05" width="37.6" height="6.25"/><circle class="o c14" cy="363" r="3.2"/><circle class="o c14" cy="379" r="3.2"/><circle class="o c14" cy="382.7" r="3.2"/></g>
<g id="s4b31" transform="translate(1565.6,0)"><rect class="b c15" x="-18.8" y="321.05" width="37.6" height="6.25"/><circle class="o c15" cy="363" r="3.2"/><circle class="o c15" cy="377.7" r="3.2"/><circle class="o c15" cy="382.7" r="3.2"/></g>
<g id="s4b32" transform="translate(1612.6,0)"><rect class="b c16" x="-18.8" y="321.05" width="37.6" height="6.65"/><circle class="o c16" cy="363.3" r="3.2"/><circle class="o c16" cy="379.7" r="3.2"/></g>
<g id="s4b33" transform="translate(1659.6,0)"><rect class="b c1" x="-18.8" y="321.05" width="37.6" height="6.95"/><circle class="o c1" cy="363.3" r="3.2"/><circle class="o c1" cy="377.7" r="3.2"/><circle class="o c1" cy="382.7" r="3.2"/></g>
<g id="s4b34" transform="translate(1706.6,0)"><rect class="b c2" x="-18.8" y="321.05" width="37.6" height="6.95"/><circle class="o c2" cy="363.7" r="3.2"/><circle class="o c2" cy="377.7" r="3.2"/><circle class="o c2" cy="382.7" r="3.2"/></g>
<g id="s4b35" transform="translate(1753.7,0)"><rect class="b c3" x="-18.8" y="321.05" width="37.6" height="7.25"/><circle class="o c3" cy="364" r="3.2"/><circle class="o c3" cy="379.7" r="3.2"/></g>
<g id="s4b36" transform="translate(1800.7,0)"><rect class="b c4" x="-18.8" y="321.05" width="37.6" height="7.65"/><circle class="o c4" cy="364" r="3.2"/><circle class="o c4" cy="378.7" r="3.2"/><circle class="o c4" cy="382.7" r="3.2"/></g>
<g id="s4b37" transform="translate(1847.7,0)"><rect class="b c5" x="-18.8" y="321.05" width="37.6" height="7.95"/><circle class="o c5" cy="364.7" r="3.2"/><circle class="o c5" cy="378.7" r="3.2"/><circle class="o c5" cy="382.7" r="3.2"/></g>
<g id="s4b38" transform="translate(1894.7,0)"><rect class="b c6" x="-18.8" y="321.05" width="37.6" height="8.25"/><circle class="o c6" cy="365" r="3.2"/><circle class="o c6" cy="379.7" r="3.2"/></g>
<g id="s4b39" transform="translate(1941.7,0)"><rect class="b c7" x="-18.8" y="321.05" width="37.6" height="8.65"/><circle class="o c7" cy="365.3" r="3.2"/><circle class="o c7" cy="378.7" r="3.2"/><circle class="o c7" cy="382.7" r="3.2"/></g>
<g id="s4b40" transform="translate(1988.7,0)"><rect class="b c8" x="-18.8" y="321.05" width="37.6" height="8.95"/><circle class="o c8" cy="365.3" r="3.2"/><circle class="o c8" cy="378.7" r="3.2"/><circle class="o c8" cy="382.7" r="3.2"/></g>
<g id="s4b41" transform="translate(2035.7,0)"><rect class="b c9" x="-18.8" y="321.05" width="37.6" height="9.25"/><circle class="o c9" cy="365.7" r="3.2"/><circle class="o c9" cy="379.7" r="3.2"/></g>
<g id="s4b42" transform="translate(2082.7,0)"><rect class="b c10" x="-18.8" y="321.05" width="37.6" height="9.25"/><circle class="o c10" cy="366" r="3.2"/><circle class="o c10" cy="378.7" r="3.2"/><circle class="o c10" cy="382.7" r="3.2"/></g>
<g id="s4b43" transform="translate(2129.7,0)"><rect class="b c11" x="-18.8" y="321.05" width="37.6" height="9.65"/><circle class="o c11" cy="366.3" r="3.2"/><circle class="o c11" cy="379.7" r="3.2"/></g>
<g id="s4b44" transform="translate(2176.7,0)"><rect class="b c12" x="-18.8" y="321.05" width="37.6" height="10.65"/><circle class="o c12" cy="366.7" r="3.2"/><circle class="o c12" cy="379.3" r="3.2"/><circle class="o c12" cy="382.7" r="3.2"/></g>
<g id="s4b45" transform="translate(2223.8,0)"><rect class="b c13" x="-18.8" y="321.05" width="37.6" height="10.65"/><circle class="o c13" cy="366.7" r="3.2"/><circle class="o c13" cy="380" r="3.2"/></g>
<g id="s4b46" transform="translate(2270.8,0)"><rect class="b c14" x="-18.8" y="321.05" width="37.6" height="10.95"/><circle class="o c14" cy="367" r="3.2"/><circle class="o c14" cy="379.3" r="3.2"/><circle class="o c14" cy="382.7" r="3.2"/></g>
<g id="s4b47" transform="translate(2317.8,0)"><rect class="b c15" x="-18.8" y="321.05" width="37.6" height="11.25"/><circle class="o c15" cy="367.3" r="3.2"/><circle class="o c15" cy="379.3" r="3.2"/><circle class="o c15" cy="382.7" r="3.2"/></g>
<g id="s4b48" transform="translate(2364.8,0)"><rect class="b c16" x="-18.8" y="321.05" width="37.6" height="11.65"/><circle class="o c16" cy="367.7" r="3.2"/><circle class="o c16" cy="379.3" r="3.2"/><circle class="o c16" cy="382.7" r="3.2"/></g>
<g id="s4b49" transform="translate(2411.8,0)"><rect class="b c1" x="-18.8" y="321.05" width="37.6" height="11.65"/><circle class="o c1" cy="368" r="3.2"/><circle class="o c1" cy="379.3" r="3.2"/><circle class="o c1" cy="382.7" r="3.2"/></g>
<g id="s4b50" transform="translate(2458.8,0)"><rect class="b c2" x="-18.8" y="321.05" width="37.6" height="12.25"/><circle class="o c2" cy="368.3" r="3.2"/><circle class="o c2" cy="379.3" r="3.2"/><circle class="o c2" cy="382.7" r="3.2"/></g>
</g>
</g>

<!-- ===================== SUBPLOT 5 ===================== -->
<g id="subplot5">
<use xlink:href="#frame" href="#frame" transform="translate(0,486.8)"/>
<g class="t" transform="translate(0,486.8)">
<text class="ty" x="28.5" y="3.6">0.00</text><text class="ty" x="28.5" y="-12.25">0.25</text><text class="ty" x="28.5" y="-28.1">0.50</text><text class="ty" x="28.5" y="-43.95">0.75</text><text class="ty" x="28.5" y="-59.8">1.00</text>
<text class="tx" x="108.3" y="33">0</text><text class="tx" x="578.4" y="33">10</text><text class="tx" x="1048.5" y="33">20</text><text class="tx" x="1518.6" y="33">30</text><text class="tx" x="1988.7" y="33">40</text><text class="tx" x="2458.8" y="33">50</text>
</g>
<g id="boxes5">
<g id="s5b1" transform="translate(155.3,0)"><path class="w" d="M-9.4 423.4H9.4M0 423.4V459.3M0 485.7V486.7M-9.4 486.7H9.4"/><rect class="b c1" x="-18.8" y="459.3" width="37.6" height="26.4"/><line class="m" x1="-18.8" x2="18.8" y1="485" y2="485"/></g>
<g id="s5b2" transform="translate(202.3,0)"><path class="w" d="M-9.4 423.4H9.4M0 423.4V459.3M0 485.7V486.7M-9.4 486.7H9.4"/><rect class="b c2" x="-18.8" y="459.3" width="37.6" height="26.4"/><line class="m" x1="-18.8" x2="18.8" y1="485.4" y2="485.4"/></g>
<g id="s5b3" transform="translate(249.3,0)"><path class="w" d="M-9.4 423.4H9.4M0 423.4V426M0 480.3V486.7M-9.4 486.7H9.4"/><rect class="b c3" x="-18.8" y="426" width="37.6" height="54.3"/><line class="m" x1="-18.8" x2="18.8" y1="459.7" y2="459.7"/></g>
<g id="s5b4" transform="translate(296.3,0)"><path class="w" d="M-9.4 423.4H9.4M0 423.4V426M0 480.3V486.7M-9.4 486.7H9.4"/><rect class="b c4" x="-18.8" y="426" width="37.6" height="54.3"/><line class="m" x1="-18.8" x2="18.8" y1="459.7" y2="459.7"/></g>
<g id="s5b5" transform="translate(343.4,0)"><path class="w" d="M-9.4 423.4H9.4M0 423.4V426M0 480.3V486.7M-9.4 486.7H9.4"/><rect class="b c5" x="-18.8" y="426" width="37.6" height="54.3"/><line class="m" x1="-18.8" x2="18.8" y1="459.7" y2="459.7"/></g>
<g id="s5b6" transform="translate(390.4,0)"><path class="w" d="M-9.4 423.4H9.4M0 423.4V426M0 480.3V486.7M-9.4 486.7H9.4"/><rect class="b c6" x="-18.8" y="426" width="37.6" height="54.3"/><line class="m" x1="-18.8" x2="18.8" y1="460" y2="460"/></g>
<g id="s5b7" transform="translate(437.4,0)"><path class="w" d="M-9.4 423.4H9.4M0 423.4V426M0 480.3V486.7M-9.4 486.7H9.4"/><rect class="b c7" x="-18.8" y="426" width="37.6" height="54.3"/><line class="m" x1="-18.8" x2="18.8" y1="460" y2="460"/></g>
<g id="s5b8" transform="translate(484.4,0)"><path class="w" d="M-9.4 423.4H9.4M0 423.4V426M0 460.7V486.7M-9.4 486.7H9.4"/><rect class="b c8" x="-18.8" y="426" width="37.6" height="34.7"/></g>
<g id="s5b9" transform="translate(531.4,0)"><path class="w" d="M-9.4 423.4H9.4M0 423.4V426M0 460.7V486.7M-9.4 486.7H9.4"/><rect class="b c9" x="-18.8" y="426" width="37.6" height="34.7"/></g>
<g id="s5b10" transform="translate(578.4,0)"><path class="w" d="M-9.4 423.4H9.4M0 423.4V426M0 461V486.7M-9.4 486.7H9.4"/><rect class="b c10" x="-18.8" y="426" width="37.6" height="35"/></g>
<g id="s5b11" transform="translate(625.4,0)"><path class="w" d="M-9.4 423.4H9.4M0 423.4V425.3M0 461V486.7M-9.4 486.7H9.4"/><rect class="b c11" x="-18.8" y="425.3" width="37.6" height="35.7"/><line class="m" x1="-18.8" x2="18.8" y1="426.2" y2="426.2"/></g>
<g id="s5b12" transform="translate(672.4,0)"><path class="w" d="M-9.4 423.4H9.4M0 461.3V486.7M-9.4 486.7H9.4"/><rect class="b c12" x="-18.8" y="423.4" width="37.6" height="37.9"/><line class="m" x1="-18.8" x2="18.8" y1="426.7" y2="426.7"/></g>
<g id="s5b13" transform="translate(719.4,0)"><path class="w" d="M-9.4 423.4H9.4M0 461.3V486.7M-9.4 486.7H9.4"/><rect class="b c13" x="-18.8" y="423.4" width="37.6" height="37.9"/><line class="m" x1="-18.8" x2="18.8" y1="427" y2="427"/></g>
<g id="s5b14" transform="translate(766.4,0)"><path class="w" d="M-9.4 423.4H9.4M0 461.7V486.7M-9.4 486.7H9.4"/><rect class="b c14" x="-18.8" y="423.4" width="37.6" height="38.3"/><line class="m" x1="-18.8" x2="18.8" y1="427" y2="427"/></g>
<g id="s5b15" transform="translate(813.5,0)"><path class="w" d="M-9.4 423.4H9.4M0 462V486.7M-9.4 486.7H9.4"/><rect class="b c15" x="-18.8" y="423.4" width="37.6" height="38.6"/><line class="m" x1="-18.8" x2="18.8" y1="427.3" y2="427.3"/></g>
<g id="s5b16" transform="translate(860.5,0)"><path class="w" d="M-9.4 423.4H9.4M0 462.3V486.7M-9.4 486.7H9.4"/><rect class="b c16" x="-18.8" y="423.4" width="37.6" height="38.9"/><line class="m" x1="-18.8" x2="18.8" y1="427.3" y2="427.3"/></g>
<g id="s5b17" transform="translate(907.5,0)"><path class="w" d="M-9.4 423.4H9.4M0 462.3V486.7M-9.4 486.7H9.4"/><rect class="b c1" x="-18.8" y="423.4" width="37.6" height="38.9"/><line class="m" x1="-18.8" x2="18.8" y1="427.3" y2="427.3"/></g>
<g id="s5b18" transform="translate(954.5,0)"><path class="w" d="M-9.4 423.4H9.4M0 462.7V486.7M-9.4 486.7H9.4"/><rect class="b c2" x="-18.8" y="423.4" width="37.6" height="39.3"/><line class="m" x1="-18.8" x2="18.8" y1="427.7" y2="427.7"/></g>
<g id="s5b19" transform="translate(1001.5,0)"><path class="w" d="M-9.4 423.4H9.4M0 463V486.7M-9.4 486.7H9.4"/><rect class="b c3" x="-18.8" y="423.4" width="37.6" height="39.6"/><line class="m" x1="-18.8" x2="18.8" y1="428" y2="428"/></g>
<g id="s5b20" transform="translate(1048.5,0)"><path class="w" d="M-9.4 423.4H9.4M0 463.3V486.7M-9.4 486.7H9.4"/><rect class="b c4" x="-18.8" y="423.4" width="37.6" height="39.9"/><line class="m" x1="-18.8" x2="18.8" y1="428" y2="428"/></g>
<g id="s5b21" transform="translate(1095.5,0)"><path class="w" d="M-9.4 423.4H9.4M0 463.3V486.7M-9.4 486.7H9.4"/><rect class="b c5" x="-18.8" y="423.4" width="37.6" height="39.9"/><line class="m" x1="-18.8" x2="18.8" y1="428.3" y2="428.3"/></g>
<g id="s5b22" transform="translate(1142.5,0)"><path class="w" d="M-9.4 423.4H9.4M0 463.3V486.7M-9.4 486.7H9.4"/><rect class="b c6" x="-18.8" y="423.4" width="37.6" height="39.9"/><line class="m" x1="-18.8" x2="18.8" y1="428.3" y2="428.3"/></g>
<g id="s5b23" transform="translate(1189.5,0)"><path class="w" d="M-9.4 423.4H9.4M0 463.7V486.7M-9.4 486.7H9.4"/><rect class="b c7" x="-18.8" y="423.4" width="37.6" height="40.3"/><line class="m" x1="-18.8" x2="18.8" y1="428.3" y2="428.3"/></g>
<g id="s5b24" transform="translate(1236.5,0)"><path class="w" d="M-9.4 423.4H9.4M0 464V486.7M-9.4 486.7H9.4"/><rect class="b c8" x="-18.8" y="423.4" width="37.6" height="40.6"/><line class="m" x1="-18.8" x2="18.8" y1="428.7" y2="428.7"/></g>
<g id="s5b25" transform="translate(1283.6,0)"><path class="w" d="M-9.4 423.4H9.4M0 464V486.7M-9.4 486.7H9.4"/><rect class="b c9" x="-18.8" y="423.4" width="37.6" height="40.6"/><line class="m" x1="-18.8" x2="18.8" y1="429" y2="429"/></g>
<g id="s5b26" transform="translate(1330.6,0)"><path class="w" d="M-9.4 423.4H9.4M0 464.3V486.7M-9.4 486.7H9.4"/><rect class="b c10" x="-18.8" y="423.4" width="37.6" height="40.9"/><line class="m" x1="-18.8" x2="18.8" y1="429.3" y2="429.3"/></g>
<g id="s5b27" transform="translate(1377.6,0)"><path class="w" d="M-9.4 423.4H9.4M0 464.7V486.7M-9.4 486.7H9.4"/><rect class="b c11" x="-18.8" y="423.4" width="37.6" height="41.3"/><line class="m" x1="-18.8" x2="18.8" y1="429.3" y2="429.3"/></g>
<g id="s5b28" transform="translate(1424.6,0)"><path class="w" d="M-9.4 423.4H9.4M0 465V486.7M-9.4 486.7H9.4"/><rect class="b c12" x="-18.8" y="423.4" width="37.6" height="41.6"/><line class="m" x1="-18.8" x2="18.8" y1="429.3" y2="429.3"/></g>
<g id="s5b29" transform="translate(1471.6,0)"><path class="w" d="M-9.4 423.4H9.4M0 465.3V486.7M-9.4 486.7H9.4"/><rect class="b c13" x="-18.8" y="423.4" width="37.6" height="41.9"/><line class="m" x1="-18.8" x2="18.8" y1="429.7" y2="429.7"/></g>
<g id="s5b30" transform="translate(1518.6,0)"><path class="w" d="M-9.4 423.4H9.4M0 465.3V486.7M-9.4 486.7H9.4"/><rect class="b c14" x="-18.8" y="423.4" width="37.6" height="41.9"/><line class="m" x1="-18.8" x2="18.8" y1="430" y2="430"/></g>
<g id="s5b31" transform="translate(1565.6,0)"><path class="w" d="M-9.4 423.4H9.4M0 465.7V486.7M-9.4 486.7H9.4"/><rect class="b c15" x="-18.8" y="423.4" width="37.6" height="42.3"/><line class="m" x1="-18.8" x2="18.8" y1="430" y2="430"/></g>
<g id="s5b32" transform="translate(1612.6,0)"><path class="w" d="M-9.4 423.4H9.4M0 466V486.7M-9.4 486.7H9.4"/><rect class="b c16" x="-18.8" y="423.4" width="37.6" height="42.6"/><line class="m" x1="-18.8" x2="18.8" y1="430.3" y2="430.3"/></g>
<g id="s5b33" transform="translate(1659.6,0)"><path class="w" d="M-9.4 423.4H9.4M0 466.3V486.7M-9.4 486.7H9.4"/><rect class="b c1" x="-18.8" y="423.4" width="37.6" height="42.9"/><line class="m" x1="-18.8" x2="18.8" y1="430.7" y2="430.7"/></g>
<g id="s5b34" transform="translate(1706.6,0)"><path class="w" d="M-9.4 423.4H9.4M0 466.3V486.7M-9.4 486.7H9.4"/><rect class="b c2" x="-18.8" y="423.4" width="37.6" height="42.9"/><line class="m" x1="-18.8" x2="18.8" y1="430.7" y2="430.7"/></g>
<g id="s5b35" transform="translate(1753.7,0)"><path class="w" d="M-9.4 423.4H9.4M0 466.7V486.7M-9.4 486.7H9.4"/><rect class="b c3" x="-18.8" y="423.4" width="37.6" height="43.3"/><line class="m" x1="-18.8" x2="18.8" y1="431" y2="431"/></g>
<g id="s5b36" transform="translate(1800.7,0)"><rect class="b c4" x="-18.8" y="423.4" width="37.6" height="7.6"/><circle class="o c4" cy="467" r="3.2"/><circle class="o c4" cy="481.7" r="3.2"/><circle class="o c4" cy="485" r="3.2"/></g>
<g id="s5b37" transform="translate(1847.7,0)"><path class="w" d="M-9.4 423.4H9.4M0 467.3V486.7M-9.4 486.7H9.4"/><rect class="b c5" x="-18.8" y="423.4" width="37.6" height="43.9"/><line class="m" x1="-18.8" x2="18.8" y1="431.7" y2="431.7"/></g>
<g id="s5b38" transform="translate(1894.7,0)"><rect class="b c6" x="-18.8" y="423.4" width="37.6" height="8.6"/><circle class="o c6" cy="467.3" r="3.2"/><circle class="o c6" cy="482.3" r="3.2"/><circle class="o c6" cy="485" r="3.2"/></g>
<g id="s5b39" transform="translate(1941.7,0)"><path class="w" d="M-9.4 423.4H9.4M0 468V486.7M-9.4 486.7H9.4"/><rect class="b c7" x="-18.8" y="423.4" width="37.6" height="44.6"/><line class="m" x1="-18.8" x2="18.8" y1="432" y2="432"/></g>
<g id="s5b40" transform="translate(1988.7,0)"><rect class="b c8" x="-18.8" y="423.4" width="37.6" height="8.9"/><circle class="o c8" cy="468" r="3.2"/><circle class="o c8" cy="481.7" r="3.2"/><circle class="o c8" cy="485" r="3.2"/></g>
<g id="s5b41" transform="translate(2035.7,0)"><path class="w" d="M-9.4 423.4H9.4M0 468.3V486.7M-9.4 486.7H9.4"/><rect class="b c9" x="-18.8" y="423.4" width="37.6" height="44.9"/><line class="m" x1="-18.8" x2="18.8" y1="432.7" y2="432.7"/></g>
<g id="s5b42" transform="translate(2082.7,0)"><path class="w" d="M-9.4 423.4H9.4M0 468.7V486.7M-9.4 486.7H9.4"/><rect class="b c10" x="-18.8" y="423.4" width="37.6" height="45.3"/><line class="m" x1="-18.8" x2="18.8" y1="432.7" y2="432.7"/></g>
<g id="s5b43" transform="translate(2129.7,0)"><path class="w" d="M-9.4 423.4H9.4M0 442.3V469M-9.4 469H9.4"/><rect class="b c11" x="-18.8" y="423.4" width="37.6" height="18.9"/><line class="m" x1="-18.8" x2="18.8" y1="433" y2="433"/><circle class="o c11" cy="482.7" r="3.2"/><circle class="o c11" cy="485" r="3.2"/></g>
<g id="s5b44" transform="translate(2176.7,0)"><rect class="b c12" x="-18.8" y="423.4" width="37.6" height="10.6"/><circle class="o c12" cy="469" r="3.2"/><circle class="o c12" cy="482.7" r="3.2"/><circle class="o c12" cy="485" r="3.2"/></g>
<g id="s5b45" transform="translate(2223.8,0)"><rect class="b c13" x="-18.8" y="423.4" width="37.6" height="10.6"/><circle class="o c13" cy="469" r="3.2"/><circle class="o c13" cy="482.7" r="3.2"/><circle class="o c13" cy="485" r="3.2"/></g>
<g id="s5b46" transform="translate(2270.8,0)"><rect class="b c14" x="-18.8" y="423.4" width="37.6" height="10.9"/><circle class="o c14" cy="469.3" r="3.2"/><circle class="o c14" cy="482.7" r="3.2"/><circle class="o c14" cy="485" r="3.2"/></g>
<g id="s5b47" transform="translate(2317.8,0)"><rect class="b c15" x="-18.8" y="423.4" width="37.6" height="11.3"/><circle class="o c15" cy="469.3" r="3.2"/><circle class="o c15" cy="482.7" r="3.2"/><circle class="o c15" cy="485" r="3.2"/></g>
<g id="s5b48" transform="translate(2364.8,0)"><rect class="b c16" x="-18.8" y="423.4" width="37.6" height="11.9"/><circle class="o c16" cy="470" r="3.2"/><circle class="o c16" cy="482.7" r="3.2"/><circle class="o c16" cy="485" r="3.2"/></g>
<g id="s5b49" transform="translate(2411.8,0)"><rect class="b c1" x="-18.8" y="423.4" width="37.6" height="11.9"/><circle class="o c1" cy="470.3" r="3.2"/><circle class="o c1" cy="482.7" r="3.2"/><circle class="o c1" cy="485" r="3.2"/></g>
<g id="s5b50" transform="translate(2458.8,0)"><rect class="b c2" x="-18.8" y="423.4" width="37.6" height="12.3"/><circle class="o c2" cy="470.7" r="3.2"/><circle class="o c2" cy="482.7" r="3.2"/><circle class="o c2" cy="485" r="3.2"/></g>
</g>
</g>
</svg>
